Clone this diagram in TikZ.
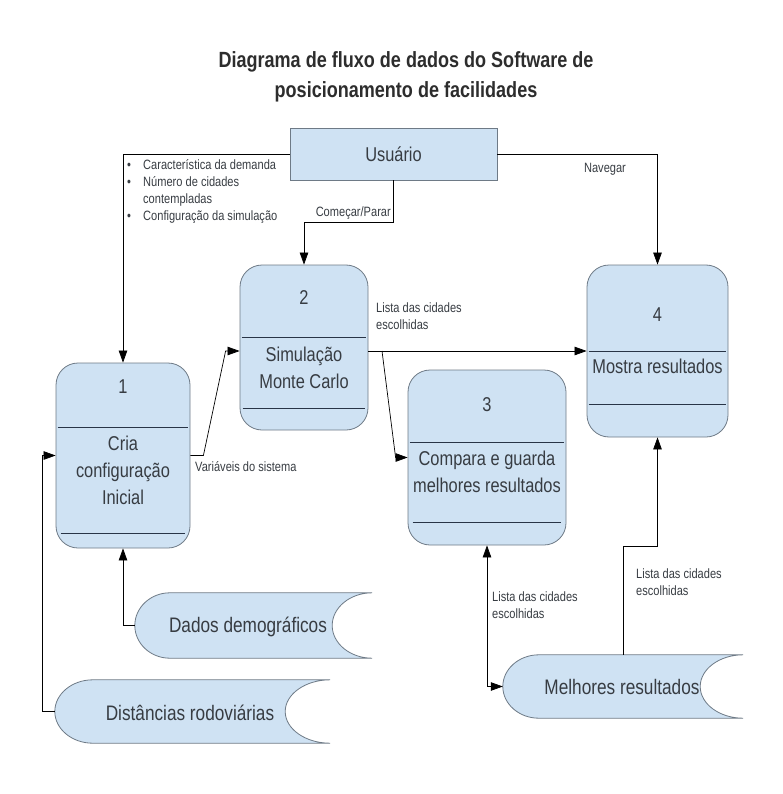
\documentclass[tikz,border=0pt]{standalone}
\usepackage{fontspec}
\setmainfont{Liberation Sans}[FakeStretch=0.82]
\usetikzlibrary{arrows.meta,calc}
\definecolor{boxfill}{RGB}{207,226,243}
\definecolor{boxline}{RGB}{110,122,134}
\definecolor{divline}{RGB}{40,52,70}
\definecolor{txt}{RGB}{55,60,66}
\definecolor{titletxt}{RGB}{45,45,45}
\newcommand\drawstore[3]{%
 \draw[storeline]
 (#1.north east) -- ([xshift=#2]#1.north west)
 .. controls ([xshift={0.45*#2}]#1.north west) and ($(#1.west)!0.55!(#1.north west)$) .. (#1.west)
 .. controls ($(#1.west)!0.55!(#1.south west)$) and ([xshift={0.45*#2}]#1.south west) .. ([xshift=#2]#1.south west)
 -- (#1.south east)
 .. controls ([xshift={-0.55*#3}]#1.south east) and ($([xshift=-#3]#1.east)!0.55!([xshift=-#3]#1.south east)$) .. ([xshift=-#3]#1.east)
 .. controls ($([xshift=-#3]#1.east)!0.55!([xshift=-#3]#1.north east)$) and ([xshift={-0.55*#3}]#1.north east) .. (#1.north east)
 -- cycle;}
\begin{document}
\begin{tikzpicture}[x=1pt,y=-1pt,
  proc/.style={draw=boxline,fill=boxfill,rounded corners=22pt,line width=0.8pt,inner sep=0pt},
  userbox/.style={draw=boxline,fill=boxfill,line width=0.8pt,inner sep=0pt},
  storebox/.style={draw=none,inner sep=0pt},
  storeline/.style={draw=boxline,fill=boxfill,line width=0.8pt},
  divider/.style={draw=divline,line width=0.9pt},
  ptext/.style={text=txt,font=\fontsize{20}{27}\selectfont,align=center,inner sep=0pt},
  stext/.style={text=txt,font=\fontsize{21}{26}\selectfont,inner sep=0pt},
  lbl/.style={text=txt,font=\fontsize{13.5}{17}\selectfont,align=left,inner sep=0pt},
  flow/.style={draw=black,line width=0.7pt,-{Triangle[length=12pt,width=8.5pt]}},
  flowboth/.style={draw=black,line width=0.7pt,{Triangle[length=12pt,width=8.5pt]}-{Triangle[length=12pt,width=8.5pt]}}
]
\useasboundingbox (0,0) rectangle (783,794);

% title
\node[text=titletxt,font=\bfseries\fontsize{22}{30}\selectfont,align=center,inner sep=0pt] (title) at (406,77) {Diagrama de fluxo de dados do Software de\\posicionamento de facilidades};

% user
\node[userbox,minimum width=207pt,minimum height=52pt] (user) at (393.5,154) {};
\node[ptext] (usert) at (393.5,154) {Usuário};

% processes
\node[proc,minimum width=134pt,minimum height=185pt] (p1) at (123,455.5) {};
\draw[divider] ([xshift=2]p1.west |- 0,427) -- ([xshift=-2]p1.east |- 0,427);
\draw[divider] ([xshift=5]p1.west |- 0,533) -- ([xshift=-5]p1.east |- 0,533);
\node[ptext] (p1n) at (123,387) {1};
\node[ptext] (p1t) at (123,470) {Cria\\configuração\\Inicial};

\node[proc,minimum width=128pt,minimum height=165pt] (p2) at (304,347.5) {};
\draw[divider] ([xshift=2]p2.west |- 0,337) -- ([xshift=-2]p2.east |- 0,337);
\draw[divider] ([xshift=3]p2.west |- 0,408) -- ([xshift=-3]p2.east |- 0,408);
\node[ptext] (p2n) at (304,298) {2};
\node[ptext] (p2t) at (304,368) {Simulação\\Monte Carlo};

\node[proc,minimum width=158pt,minimum height=175pt] (p3) at (487,457.5) {};
\draw[divider] ([xshift=2]p3.west |- 0,442) -- ([xshift=-2]p3.east |- 0,442);
\draw[divider] ([xshift=5]p3.west |- 0,522) -- ([xshift=-5]p3.east |- 0,522);
\node[ptext] (p3n) at (487,405) {3};
\node[ptext] (p3t) at (487,472) {Compara e guarda\\melhores resultados};

\node[proc,minimum width=141pt,minimum height=172pt] (p4) at (657.5,351) {};
\draw[divider] ([xshift=2]p4.west |- 0,351) -- ([xshift=-2]p4.east |- 0,351);
\draw[divider] ([xshift=2]p4.west |- 0,404) -- ([xshift=-2]p4.east |- 0,404);
\node[ptext] (p4n) at (657.5,315) {4};
\node[ptext] (p4t) at (657.5,366) {Mostra resultados};

% stores
\node[storebox,minimum width=237pt,minimum height=65pt] (s1) at (253.5,625.5) {};
\drawstore{s1}{35}{40}
\node[stext] (s1t) at (248,627) {Dados demográficos};

\node[storebox,minimum width=275pt,minimum height=63pt] (s2) at (192.5,711.5) {};
\drawstore{s2}{38}{45}
\node[stext] (s2t) at (190,713) {Distâncias rodoviárias};

\node[storebox,minimum width=240pt,minimum height=63pt] (s3) at (623,686.5) {};
\drawstore{s3}{36}{43}
\node[stext] (s3t) at (622,687) {Melhores resultados};

% connectors
\draw[flow] (user.west) -| (p1.north);
\draw[flow] (user.south) -- ++(0,42) -| (p2.north);
\draw[flow] (user.east) -| (p4.north);
\draw[flow] (p1.east) -- ++(13,0) -- ([xshift=-14]p2.west |- p4.west) -- (p2.west |- p4.west);
\draw[flow] (p2.east |- p4.west) -- (p4.west);
\coordinate (split) at (382,351);
\draw[flow] (split) -- ([xshift=-12]p3.west) -- (p3.west);
\draw[flow] (s1.west) -| (p1.south);
\draw[flow] (s2.west) -- ++(-12,0) |- (p1.west);
\draw[flowboth] (p3.south) |- (s3.west);
\draw[flow] (s3.north) -- ++(0,-108) -| (p4.south);

% labels
\node[lbl,anchor=north west] (bul) at (127,159) {\makebox[16pt][l]{•}Característica da demanda\\\makebox[16pt][l]{•}Número de cidades\\\makebox[16pt][l]{}contempladas\\\makebox[16pt][l]{•}Configuração da simulação};
\node[lbl,anchor=east] (lcp) at (391,213) {Começar/Parar};
\node[lbl] (lnav) at (605,169) {Navegar};
\node[lbl,anchor=west] (lvar) at (195,467) {Variáveis do sistema};
\node[lbl,anchor=north west] (l2) at (376,303) {Lista das cidades\\escolhidas};
\node[lbl,anchor=north west] (l3) at (492,592) {Lista das cidades\\escolhidas};
\node[lbl,anchor=north west] (l4) at (636,569) {Lista das cidades\\escolhidas};
\end{tikzpicture}
\end{document}
